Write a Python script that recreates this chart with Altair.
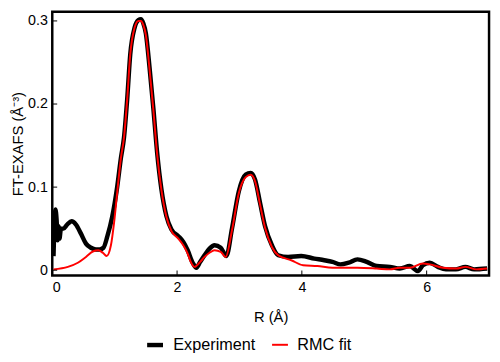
import altair as alt
import pandas as pd

# Experiment (black)
exp_r = [0.02, 0.05, 0.07, 0.085, 0.10, 0.115, 0.14, 0.18, 0.24, 0.31, 0.38, 0.46, 0.54, 0.62, 0.70, 0.76,
         0.82, 0.88, 0.96, 1.04, 1.10, 1.15, 1.20, 1.25, 1.32, 1.38, 1.42, 1.46, 1.50, 1.56, 1.62, 1.68,
         1.75, 1.83, 1.91, 2.02, 2.10, 2.17, 2.25, 2.31, 2.37, 2.44, 2.52, 2.60, 2.70, 2.79, 2.88, 2.99,
         3.10, 3.18, 3.25, 3.33, 3.41, 3.52, 3.62, 3.78, 3.99, 4.20, 4.36, 4.49, 4.62, 4.75, 4.89, 5.04,
         5.20, 5.41, 5.57, 5.73, 5.86, 5.94, 6.05, 6.18, 6.31, 6.47, 6.62, 6.76, 6.97]
exp_v = [0.017, 0.073, 0.060, 0.036, 0.053, 0.038, 0.050, 0.050, 0.055, 0.059, 0.055, 0.044, 0.032, 0.027, 0.025, 0.025,
         0.027, 0.040, 0.064, 0.100, 0.135, 0.160, 0.205, 0.260, 0.292, 0.301, 0.302, 0.297, 0.285, 0.243, 0.195, 0.142,
         0.097, 0.065, 0.049, 0.041, 0.034, 0.024, 0.009, 0.003, 0.010, 0.018, 0.026, 0.030, 0.027, 0.017, 0.050, 0.095,
         0.115, 0.117, 0.109, 0.081, 0.053, 0.030, 0.018, 0.016, 0.017, 0.014, 0.012, 0.010, 0.007, 0.009, 0.013, 0.010,
         0.005, 0.004, 0.002, 0.005, -0.001, 0.006, 0.009, 0.004, 0.001, 0.001, 0.004, 0.001, 0.002]

# RMC fit (red)
fit_r = [0.02, 0.25, 0.41, 0.54, 0.65, 0.74, 0.81, 0.87, 0.94, 0.99, 1.04, 1.10, 1.15, 1.20, 1.25, 1.32,
         1.38, 1.42, 1.46, 1.50, 1.56, 1.62, 1.68, 1.75, 1.83, 1.91, 2.02, 2.10, 2.17, 2.22, 2.28, 2.37,
         2.44, 2.52, 2.60, 2.70, 2.78, 2.88, 2.99, 3.10, 3.18, 3.25, 3.33, 3.41, 3.52, 3.62, 3.83, 4.02,
         4.25, 4.49, 4.89, 5.20, 5.41, 5.57, 5.73, 5.94, 6.05, 6.26, 6.47, 6.62, 6.80, 6.97]
fit_v = [0.001, 0.004, 0.009, 0.016, 0.0225, 0.024, 0.021, 0.017, 0.030, 0.057, 0.093, 0.135, 0.160, 0.205, 0.260, 0.292,
         0.300, 0.300, 0.295, 0.283, 0.241, 0.193, 0.140, 0.096, 0.064, 0.047, 0.038, 0.030, 0.020, 0.010, 0.004, 0.010,
         0.016, 0.021, 0.024, 0.022, 0.016, 0.048, 0.093, 0.112, 0.115, 0.107, 0.079, 0.051, 0.028, 0.018, 0.012, 0.006,
         0.005, 0.003, 0.003, 0.002, 0.001, 0.003, 0.003, 0.008, 0.007, 0.003, 0.002, 0.004, 0.001, 0.002]

series_names = ["Experiment", "RMC fit"]
series_colors = ["black", "red"]
series_widths = [4.5, 2]

x_ticks = [0, 2, 4, 6]
y_ticks = [0, 0.1, 0.2, 0.3]

W, H = 444, 268
FONT = "Liberation Sans"

df = pd.concat([
    pd.DataFrame({"R": exp_r, "v": exp_v, "series": series_names[0], "ord": range(len(exp_r))}),
    pd.DataFrame({"R": fit_r, "v": fit_v, "series": series_names[1], "ord": range(len(fit_r))}),
])

xscale = alt.Scale(domain=[0, 7], nice=False, zero=False)
yscale = alt.Scale(domain=[-0.0063, 0.311], nice=False, zero=False)


def make_legend():
    return alt.Legend(title=None, orient="none", direction="horizontal",
                      legendX=94, legendY=328, symbolType="stroke",
                      symbolSize=260, labelFontSize=16.5, labelFont=FONT,
                      labelColor="black", labelOffset=8, columnPadding=12)


color = alt.Color("series:N", scale=alt.Scale(domain=series_names, range=series_colors), legend=make_legend())
sw = alt.StrokeWidth("series:N", scale=alt.Scale(domain=series_names, range=series_widths), legend=make_legend())

xaxis = alt.Axis(values=x_ticks, format="d", grid=False, domain=False, ticks=False, tickSize=0,
                 labelPadding=5, labelFontSize=14.5, labelFont=FONT, labelColor="black",
                 title="R (Å)", titleFontSize=15, titleFont=FONT, titleFontWeight="normal",
                 titleColor="black", titlePadding=16)
yaxis = alt.Axis(values=y_ticks, format="~g", grid=False, domain=False, ticks=False, tickSize=0,
                 labelPadding=5, labelFontSize=14.5, labelFont=FONT, labelColor="black",
                 title="FT-EXAFS (Å⁻³)", titleFontSize=15, titleFont=FONT, titleFontWeight="normal",
                 titleColor="black", titlePadding=2)

base = alt.Chart(df)
exp_line = base.transform_filter(alt.datum.series == series_names[0]).mark_line(interpolate="monotone").encode(
    x=alt.X("R:Q", scale=xscale, axis=xaxis),
    y=alt.Y("v:Q", scale=yscale, axis=yaxis),
    color=color, strokeWidth=sw, order="ord:Q")
fit_line = base.transform_filter(alt.datum.series == series_names[1]).mark_line(interpolate="monotone").encode(
    x=alt.X("R:Q", scale=xscale, axis=xaxis),
    y=alt.Y("v:Q", scale=yscale, axis=yaxis),
    color=color, strokeWidth=sw, order="ord:Q")

xt = alt.Chart(pd.DataFrame({"t": x_ticks})).mark_rule(color="black", strokeWidth=1).encode(
    x=alt.X("t:Q", scale=xscale), y=alt.value(H), y2=alt.value(H - 5))
yt = alt.Chart(pd.DataFrame({"t": y_ticks})).mark_rule(color="black", strokeWidth=1).encode(
    y=alt.Y("t:Q", scale=yscale), x=alt.value(0), x2=alt.value(5))

chart = alt.layer(exp_line, fit_line, xt, yt).properties(
    width=W, height=H,
    autosize=alt.AutoSizeParams(type="none"),
    padding={"left": 45, "top": 1, "right": 3, "bottom": 77},
).configure_view(stroke="black", strokeWidth=2.5)

chart.save("out.html", embed_options={"renderer": "svg", "actions": False})
